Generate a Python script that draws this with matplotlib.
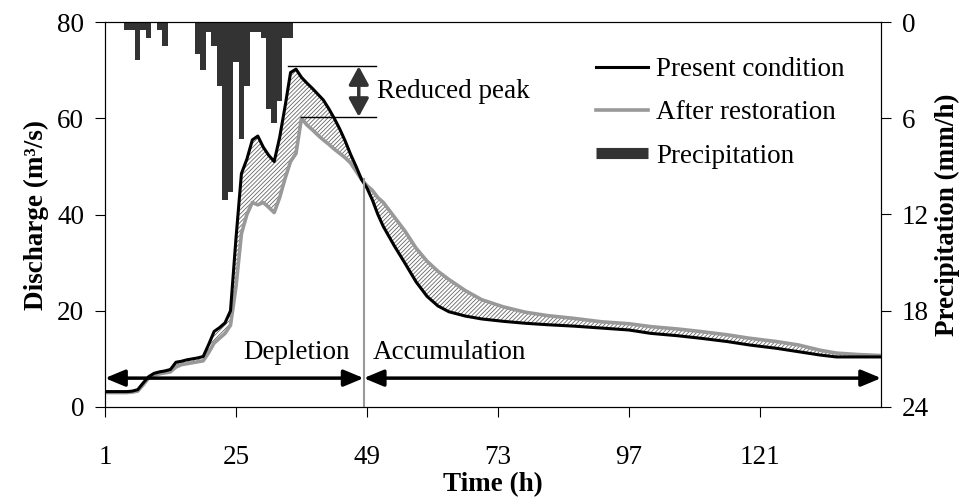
"""
Hydrograph: present condition vs. after restoration, with hourly precipitation
hanging from the top on an inverted secondary axis.
"""
import matplotlib
matplotlib.use('Agg')
import matplotlib.pyplot as plt
from matplotlib.lines import Line2D

# discharge (m3/s), both series on the same hour grid
hours = [1, 2, 3, 4, 5, 6, 7, 8, 9, 10, 11, 12, 13, 14, 15, 16, 17, 18, 19, 20,
         21, 22, 23, 24, 25, 26, 27, 28, 29, 30, 31, 32, 33, 34, 35, 36, 37, 38, 39, 40,
         41, 42, 43, 44, 45, 46, 47, 48, 49, 50, 51, 52, 54, 56, 58, 60, 62, 64,
         67, 70, 74, 78, 82, 87, 92, 97, 101, 106, 110, 115, 119, 124, 128, 132, 135, 139, 143]
present = [3.2, 3.2, 3.2, 3.2, 3.2, 3.3, 3.6, 5.0, 6.3, 7.0, 7.3, 7.5, 7.8, 9.3, 9.5, 9.8, 10.0, 10.2, 10.5, 13.0,
           15.7, 16.5, 17.5, 20.0, 35.0, 48.5, 51.5, 55.5, 56.3, 54.0, 52.3, 51.0, 56.0, 62.5, 69.5, 70.2, 68.5, 67.3, 66.2, 65.0,
           63.8, 62.0, 60.0, 57.8, 55.3, 52.5, 50.0, 47.3, 45.5, 43.0, 40.0, 37.5, 33.5, 29.8, 26.0, 23.0, 21.0, 19.8,
           18.9, 18.3, 17.8, 17.4, 17.1, 16.8, 16.4, 16.0, 15.3, 14.8, 14.3, 13.6, 12.9, 12.2, 11.5, 10.8, 10.4, 10.4, 10.4]
restored = [3.0, 3.0, 3.0, 3.0, 3.0, 3.1, 3.3, 4.6, 6.0, 6.6, 6.9, 7.1, 7.3, 8.3, 8.8, 9.0, 9.2, 9.4, 9.6, 11.3,
            13.3, 14.3, 15.3, 17.0, 25.0, 36.0, 40.0, 42.5, 42.0, 42.5, 41.5, 40.4, 43.5, 47.5, 51.0, 52.7, 60.0, 58.6, 57.6, 56.5,
            55.5, 54.6, 53.6, 52.7, 51.8, 50.7, 49.0, 47.3, 46.0, 45.0, 43.5, 42.5, 39.5, 36.5, 33.0, 30.3, 28.2, 26.5,
            24.2, 22.3, 20.8, 19.7, 19.0, 18.4, 17.7, 17.3, 16.7, 16.2, 15.7, 15.0, 14.3, 13.6, 12.9, 11.8, 11.2, 10.9, 10.7]

# precipitation (mm/h)
rain_hours = [5, 6, 7, 8, 9, 11, 12, 18, 19, 20, 21, 22, 23, 24, 25, 26, 27, 28, 29, 30, 31, 32, 33, 34, 35]
rain_mm = [0.5, 0.5, 2.4, 0.5, 1.0, 0.5, 1.5, 2.0, 3.0, 0.6, 1.5, 4.0, 11.1, 10.6, 2.5, 7.3, 4.0, 0.6, 0.6, 1.0,
           5.4, 6.3, 4.9, 1.0, 1.0]

x_ticks = [1, 25, 49, 73, 97, 121]
q_ticks = [0, 20, 40, 60, 80]
p_ticks = [0, 6, 12, 18, 24]

labels = ['Present condition', 'After restoration', 'Precipitation']

# annotation positions
divider_h = 48.4
divider_q = 47.3
arrow_q = 6.0
peak_hi, peak_lo = 70.8, 60.3

plt.rcParams['font.family'] = ['Liberation Serif', 'DejaVu Serif']
plt.rcParams['font.size'] = 19.5
plt.rcParams['hatch.linewidth'] = 0.6

fig, ax = plt.subplots(figsize=(9.63, 5.0), dpi=100)
fig.subplots_adjust(left=0.109, right=0.915, bottom=0.186, top=0.956)
ax2 = ax.twinx()

# precipitation bars hanging from the top
ax2.bar(rain_hours, rain_mm, width=1.0, color='#333333', linewidth=0)
ax2.set_ylim(24, 0)
ax2.set_yticks(p_ticks)

# keep the discharge axis on top of the bars
ax.set_zorder(ax2.get_zorder() + 1)
ax.patch.set_visible(False)

ax.fill_between(hours, present, restored, facecolor='white', hatch='////////',
                edgecolor='#666666', linewidth=0)
ax.plot(hours, restored, color='#999999', lw=2.6)
ax.plot(hours, present, color='black', lw=2.2)

# depletion / accumulation split
ax.plot([divider_h, divider_h], [0, divider_q], color='#999999', lw=1.5)
head = '<|-|>,head_length=0.6,head_width=0.25'
ax.annotate('', xy=(1, arrow_q), xytext=(divider_h, arrow_q),
            arrowprops=dict(arrowstyle=head, color='black', lw=2.5,
                            shrinkA=0, shrinkB=0, mutation_scale=20))
ax.annotate('', xy=(divider_h, arrow_q), xytext=(143.2, arrow_q),
            arrowprops=dict(arrowstyle=head, color='black', lw=2.5,
                            shrinkA=0, shrinkB=0, mutation_scale=20))
ax.text(45.9, 11.3, 'Depletion', ha='right', va='center')
ax.text(50.1, 11.3, 'Accumulation', ha='left', va='center')

# reduced peak marker
ax.plot([34.6, 50.6], [peak_hi, peak_hi], color='black', lw=1)
ax.plot([37.0, 50.6], [peak_lo, peak_lo], color='black', lw=1)
ax.annotate('', xy=(47.5, peak_hi), xytext=(47.5, peak_lo),
            arrowprops=dict(arrowstyle='<|-|>,head_length=0.55,head_width=0.3',
                            color='#333333', lw=2.5, shrinkA=0, shrinkB=0,
                            mutation_scale=20))
ax.text(50.8, 65.6, 'Reduced peak', ha='left', va='center')

ax.set_xlim(1, 143.2)
ax.set_ylim(0, 80)
ax.set_xticks(x_ticks)
ax.set_yticks(q_ticks)
ax.tick_params(axis='x', direction='out', length=7, pad=20)
ax.tick_params(axis='y', direction='out', length=7, pad=8)
ax2.tick_params(axis='y', direction='out', length=7, pad=8)

ax.set_xlabel('Time (h)', fontweight='bold', labelpad=2)
ax.set_ylabel('Discharge (m³/s)', fontweight='bold', labelpad=6)
ax2.set_ylabel('Precipitation (mm/h)', fontweight='bold')

handles = [Line2D([], [], color='black', lw=2.2),
           Line2D([], [], color='#999999', lw=2.6),
           Line2D([], [], color='#333333', lw=8, solid_capstyle='butt')]
ax.legend(handles, labels, loc='upper left', bbox_to_anchor=(0.633, 0.909),
          frameon=False, borderaxespad=0, borderpad=0, handlelength=1.9,
          handletextpad=0.3, labelspacing=0.68)

plt.savefig('out.png', dpi=100)
plt.close()
